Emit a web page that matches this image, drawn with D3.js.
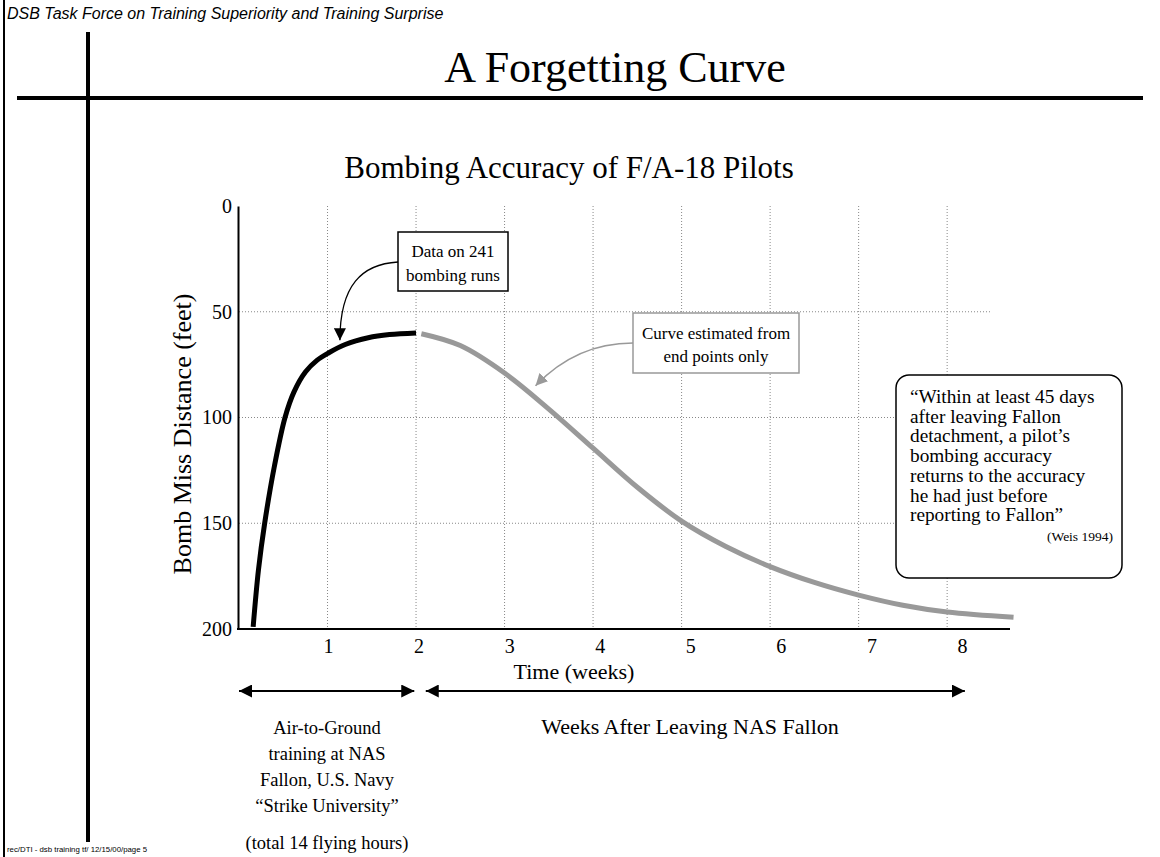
<!DOCTYPE html>
<html>
<head>
<meta charset="utf-8">
<script src="https://cdn.jsdelivr.net/npm/d3@7"></script>
<style>
  body { margin: 0; background: #fff; }
  svg { display: block; }
  .serif { font-family: "Liberation Serif", "Times New Roman", serif; fill: #000; }
  .sans { font-family: "Liberation Sans", Arial, sans-serif; fill: #000; }
</style>
</head>
<body>
<svg id="chart" width="1160" height="857"></svg>
<script>
// ---- data ----
const trainingWeeks = [0.16, 0.22, 0.29, 0.4, 0.52, 0.62, 0.75, 0.88, 1.01, 1.2, 1.46, 1.7, 2.0];
const trainingMiss  = [199, 172, 150, 123, 100, 88, 78.5, 73, 69.5, 65.5, 62.3, 60.8, 60];
const afterWeeks = [2.06, 2.5, 3.0, 3.5, 4.0, 4.5, 5.0, 5.5, 6.0, 6.5, 7.0, 7.5, 8.0, 8.75];
const afterMiss  = [60.4, 66, 79, 96, 114.5, 133, 149, 161, 170.5, 178, 184, 188.8, 192, 194.5];
const xTickLabels = ["1", "2", "3", "4", "5", "6", "7", "8"];
const yTickValues = [0, 50, 100, 150, 200];
const gridWeeks = [1, 2, 3, 4, 5, 6, 7, 8];
const gridMiss = [50, 100, 150];
const quoteLines = ["\u201CWithin at least 45 days", "after leaving Fallon", "detachment, a pilot\u2019s",
  "bombing accuracy", "returns to the accuracy", "he had just before", "reporting to Fallon\u201D"];
const trainingLines = ["Air-to-Ground", "training at NAS", "Fallon, U.S. Navy", "\u201CStrike University\u201D"];

const svg = d3.select("#chart");

// ---- scales ----
const x = d3.scaleLinear().domain([0, 8.71]).range([239, 1010]);
const y = d3.scaleLinear().domain([0, 200]).range([206, 629]);
const xLabel = d3.scaleLinear().domain([1, 8]).range([328, 962]);

// ---- defs: arrowheads ----
const defs = svg.append("defs");
function marker(id, color, size) {
  const m = defs.append("marker").attr("id", id)
    .attr("viewBox", "0 0 10 10").attr("refX", 10).attr("refY", 5)
    .attr("markerUnits", "userSpaceOnUse")
    .attr("markerWidth", size).attr("markerHeight", size)
    .attr("orient", "auto-start-reverse");
  m.append("path").attr("d", "M0,0 L10,5 L0,10 Z").attr("fill", color);
}
marker("arrBlack", "#000", 12);
marker("arrGray", "#999", 12);
marker("arrBig", "#000", 13);

// ---- slide frame ----
svg.append("line").attr("x1", 4).attr("x2", 4).attr("y1", 0).attr("y2", 857)
  .attr("stroke", "#000").attr("stroke-width", 2);
svg.append("line").attr("x1", 88).attr("x2", 88).attr("y1", 32).attr("y2", 842)
  .attr("stroke", "#000").attr("stroke-width", 4);
svg.append("line").attr("x1", 17).attr("x2", 1143).attr("y1", 98).attr("y2", 98)
  .attr("stroke", "#000").attr("stroke-width", 4);

svg.append("text").attr("class", "sans").attr("x", 7).attr("y", 19)
  .attr("font-size", 16).attr("font-style", "italic")
  .text("DSB Task Force on Training Superiority and Training Surprise");

svg.append("text").attr("class", "serif").attr("x", 615).attr("y", 82)
  .attr("text-anchor", "middle").attr("font-size", 44).text("A Forgetting Curve");

svg.append("text").attr("class", "sans").attr("x", 7).attr("y", 852)
  .attr("font-size", 7.8).text("rec/DTI - dsb training tf/ 12/15/00/page 5");

// ---- chart title ----
svg.append("text").attr("class", "serif").attr("x", 569).attr("y", 178)
  .attr("text-anchor", "middle").attr("font-size", 31)
  .text("Bombing Accuracy of F/A-18 Pilots");

// ---- gridlines ----
const grid = svg.append("g").attr("stroke", "#888").attr("stroke-width", 1)
  .attr("stroke-dasharray", "1,2");
grid.selectAll("line.v").data(gridWeeks).join("line").attr("class", "v")
  .attr("x1", d => x(d)).attr("x2", d => x(d))
  .attr("y1", y(0)).attr("y2", y(200));
grid.selectAll("line.h").data(gridMiss).join("line").attr("class", "h")
  .attr("x1", x(0)).attr("x2", 990)
  .attr("y1", d => y(d)).attr("y2", d => y(d));

// ---- axes ----
const yAxis = svg.append("g").attr("transform", "translate(238,0)")
  .call(d3.axisLeft(y).tickValues(yTickValues).tickSize(0).tickPadding(6));
yAxis.select(".domain").attr("stroke", "#000").attr("stroke-width", 2);
yAxis.selectAll("text").attr("class", "serif").attr("font-size", 20);

svg.append("line").attr("x1", 237).attr("x2", x(8.71)).attr("y1", y(200)).attr("y2", y(200))
  .attr("stroke", "#000").attr("stroke-width", 2);

const xAxis = svg.append("g").attr("transform", `translate(0,${y(200)})`)
  .call(d3.axisBottom(xLabel).tickValues(d3.range(1, 9)).tickFormat((d, i) => xTickLabels[i])
    .tickSize(0).tickPadding(10));
xAxis.select(".domain").remove();
xAxis.selectAll("text").attr("class", "serif").attr("font-size", 20);

svg.append("text").attr("class", "serif").attr("x", 574).attr("y", 679)
  .attr("text-anchor", "middle").attr("font-size", 22).text("Time (weeks)");

svg.append("text").attr("class", "serif")
  .attr("transform", `translate(191,${434}) rotate(-90)`)
  .attr("text-anchor", "middle").attr("font-size", 26).text("Bomb Miss Distance (feet)");

// ---- curves ----
const line = d3.line().x(d => x(d[0])).y(d => y(d[1])).curve(d3.curveCatmullRom.alpha(0.5));
svg.append("path").datum(d3.zip(afterWeeks, afterMiss)).attr("d", line)
  .attr("fill", "none").attr("stroke", "#999").attr("stroke-width", 5);
svg.append("path").datum(d3.zip(trainingWeeks, trainingMiss)).attr("d", line)
  .attr("fill", "none").attr("stroke", "#000").attr("stroke-width", 5);

// ---- annotation 1 ----
const a1 = svg.append("g");
a1.append("rect").attr("x", 398).attr("y", 232).attr("width", 110).attr("height", 59)
  .attr("fill", "#fff").attr("stroke", "#000").attr("stroke-width", 1.5);
a1.append("text").attr("class", "serif").attr("x", 453).attr("y", 257)
  .attr("text-anchor", "middle").attr("font-size", 17).text("Data on 241");
a1.append("text").attr("class", "serif").attr("x", 453).attr("y", 281)
  .attr("text-anchor", "middle").attr("font-size", 17).text("bombing runs");
a1.append("path")
  .attr("d", `M398,262 C362,264 ${x(1.14)},285 ${x(1.14)},${y(63.5)}`)
  .attr("fill", "none").attr("stroke", "#000").attr("stroke-width", 1.3)
  .attr("marker-end", "url(#arrBlack)");

// ---- annotation 2 ----
const a2 = svg.append("g");
a2.append("rect").attr("x", 633).attr("y", 313).attr("width", 166).attr("height", 60)
  .attr("fill", "#fff").attr("stroke", "#999").attr("stroke-width", 1.5);
a2.append("text").attr("class", "serif").attr("x", 716).attr("y", 339)
  .attr("text-anchor", "middle").attr("font-size", 17).text("Curve estimated from");
a2.append("text").attr("class", "serif").attr("x", 716).attr("y", 362)
  .attr("text-anchor", "middle").attr("font-size", 17).text("end points only");
a2.append("path")
  .attr("d", `M633,343 C595,343 562,358 ${x(3.35)},${y(85)}`)
  .attr("fill", "none").attr("stroke", "#999").attr("stroke-width", 1.5)
  .attr("marker-end", "url(#arrGray)");

// ---- annotation 3 (quote) ----
const a3 = svg.append("g");
a3.append("rect").attr("x", 896).attr("y", 375).attr("width", 226).attr("height", 203)
  .attr("rx", 13).attr("ry", 13)
  .attr("fill", "#fff").attr("stroke", "#000").attr("stroke-width", 1.5);
a3.selectAll("text.q").data(quoteLines).join("text").attr("class", "serif q")
  .attr("x", 910).attr("y", (d, i) => 403 + i * 19.7)
  .attr("font-size", 19.3).text(d => d);
a3.append("text").attr("class", "serif").attr("x", 1113).attr("y", 541)
  .attr("text-anchor", "end").attr("font-size", 13.5).text("(Weis 1994)");

// ---- bottom period arrows ----
svg.append("line").attr("x1", x(0)).attr("x2", x(1.98)).attr("y1", 691).attr("y2", 691)
  .attr("stroke", "#000").attr("stroke-width", 2)
  .attr("marker-start", "url(#arrBig)").attr("marker-end", "url(#arrBig)");
svg.append("line").attr("x1", x(2.11)).attr("x2", x(8.2)).attr("y1", 691).attr("y2", 691)
  .attr("stroke", "#000").attr("stroke-width", 2)
  .attr("marker-start", "url(#arrBig)").attr("marker-end", "url(#arrBig)");

svg.selectAll("text.tr").data(trainingLines).join("text").attr("class", "serif tr")
  .attr("x", 327).attr("y", (d, i) => 734 + i * 26)
  .attr("text-anchor", "middle").attr("font-size", 18.5).text(d => d);
svg.append("text").attr("class", "serif").attr("x", 327).attr("y", 849)
  .attr("text-anchor", "middle").attr("font-size", 18.5).text("(total 14 flying hours)");

svg.append("text").attr("class", "serif").attr("x", 690).attr("y", 734)
  .attr("text-anchor", "middle").attr("font-size", 22).text("Weeks After Leaving NAS Fallon");
</script>
</body>
</html>
